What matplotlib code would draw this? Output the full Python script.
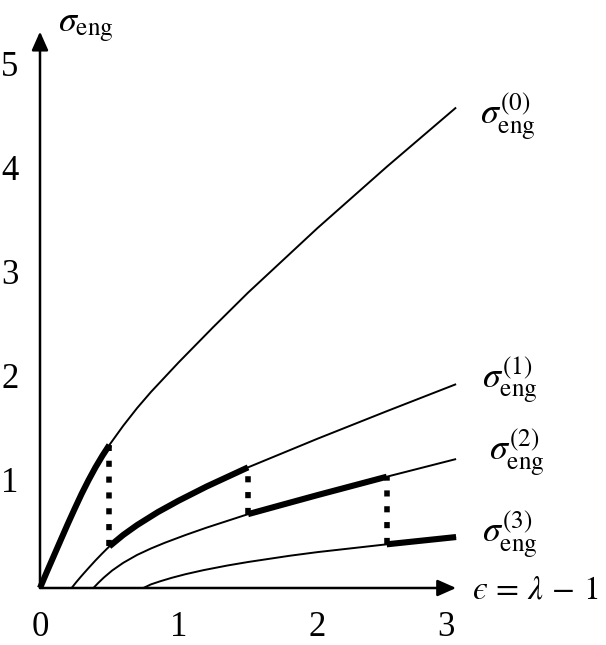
import matplotlib
matplotlib.use('Agg')
import matplotlib.pyplot as plt
import numpy as np

plt.rcParams['mathtext.fontset'] = 'stix'
plt.rcParams['font.family'] = ['Liberation Serif', 'DejaVu Serif']

# ---- data ----
x0 = [0, 0.05, 0.1, 0.15, 0.2, 0.25, 0.3, 0.35, 0.4, 0.45, 0.5, 0.6, 0.7, 0.8,
      1.0, 1.25, 1.5, 2.0, 2.5, 3.0]
y0 = [0, 0.157, 0.31, 0.463, 0.615, 0.762, 0.905, 1.037, 1.16, 1.272, 1.375,
      1.56, 1.73, 1.885, 2.17, 2.51, 2.84, 3.46, 4.05, 4.62]

x1 = [0.228, 0.26, 0.3, 0.35, 0.4, 0.45, 0.5, 0.6, 0.7, 0.85, 1.0, 1.2, 1.5,
      2.0, 2.5, 3.0]
y1 = [0, 0.054, 0.117, 0.192, 0.265, 0.334, 0.40, 0.51, 0.605, 0.73, 0.84,
      0.975, 1.16, 1.435, 1.70, 1.96]

x2 = [0.385, 0.42, 0.46, 0.52, 0.6, 0.7, 0.8, 0.9, 1.05, 1.2, 1.5, 1.8, 2.0,
      2.5, 3.0]
y2 = [0, 0.049, 0.1, 0.168, 0.242, 0.318, 0.38, 0.435, 0.51, 0.58, 0.71, 0.82,
      0.893, 1.07, 1.24]

x3 = [0.745, 0.8, 0.87, 0.95, 1.05, 1.18, 1.35, 1.5, 1.8, 2.0, 2.5, 3.0]
y3 = [0, 0.035, 0.066, 0.098, 0.133, 0.172, 0.216, 0.25, 0.31, 0.345, 0.42,
      0.49]

series_x = [x0, x1, x2, x3]
series_y = [y0, y1, y2, y3]
thick_ranges = [(0.0, 0.5), (0.5, 1.5), (1.5, 2.5), (2.5, 3.0)]
jumps = [0.5, 1.5, 2.5]
labels = [r'$\sigma_{\rm eng}^{(0)}$', r'$\sigma_{\rm eng}^{(1)}$',
          r'$\sigma_{\rm eng}^{(2)}$', r'$\sigma_{\rm eng}^{(3)}$']
label_pos = [(3.17, 4.53), (3.19, 2.0), (3.24, 1.30), (3.19, 0.51)]
xticks = [0, 1, 2, 3]
xtick_pos = [0, 1.0, 2.0, 2.93]
yticks = [1, 2, 3, 4, 5]

# ---- figure: axes fill the figure, data mapped to reference pixels ----
W, H = 606, 645
ox, oy = 40, 588          # pixel of origin
sx, sy = 138.7, 104.0     # pixels per unit
fig = plt.figure(figsize=(W / 100, H / 100), dpi=100)
ax = fig.add_axes([0, 0, 1, 1])
ax.set_xlim(-ox / sx, (W - ox) / sx)
ax.set_ylim(-(H - oy) / sy, oy / sy)
ax.axis('off')

thin = 1.4
thick = 4.4
for xs, ys, (a, b) in zip(series_x, series_y, thick_ranges):
    xs = np.asarray(xs); ys = np.asarray(ys)
    ax.plot(xs, ys, color='black', lw=thin, solid_capstyle='butt', zorder=2)
    m = (xs >= a - 1e-9) & (xs <= b + 1e-9)
    ax.plot(xs[m], ys[m], color='black', lw=thick, solid_capstyle='butt',
            solid_joinstyle='round', zorder=3)

for i, xj in enumerate(jumps):
    top = np.interp(xj, series_x[i], series_y[i])
    bot = np.interp(xj, series_x[i + 1], series_y[i + 1])
    ax.plot([xj, xj], [bot, top], color='black', lw=4.0,
            linestyle=(0, (1.1, 1.75)), dash_capstyle='butt', zorder=3)

# axes arrows
arrow = dict(arrowstyle='-|>,head_length=0.45,head_width=0.2', mutation_scale=25,
             lw=1.8, color='black', shrinkA=0, shrinkB=0)
ax.annotate('', xy=(3.0, 0), xytext=(0, 0), arrowprops=arrow)
ax.annotate('', xy=(0, 5.35), xytext=(0, 0), arrowprops=arrow)

fs_tick = 25
for v, p in zip(xticks, xtick_pos):
    ax.text(p, -0.375, str(v), ha='center', va='center', fontsize=fs_tick)
for v in yticks:
    ax.text(-0.216, v, str(v), ha='center', va='center', fontsize=fs_tick)

fs_lab = 26
for lab, (lx, ly) in zip(labels, label_pos):
    ax.text(lx, ly, lab, ha='left', va='center', fontsize=fs_lab)

ax.text((58 - ox) / sx, (oy - 28) / sy, r'$\sigma_{\rm eng}$', ha='left',
        va='center', fontsize=fs_lab)
ax.text((472 - ox) / sx, (oy - 590) / sy,
        '$\u03f5\\,=\\,\\lambda\\,-\\,1$',
        ha='left', va='center', fontsize=24)

fig.savefig('out.png', dpi=100)
